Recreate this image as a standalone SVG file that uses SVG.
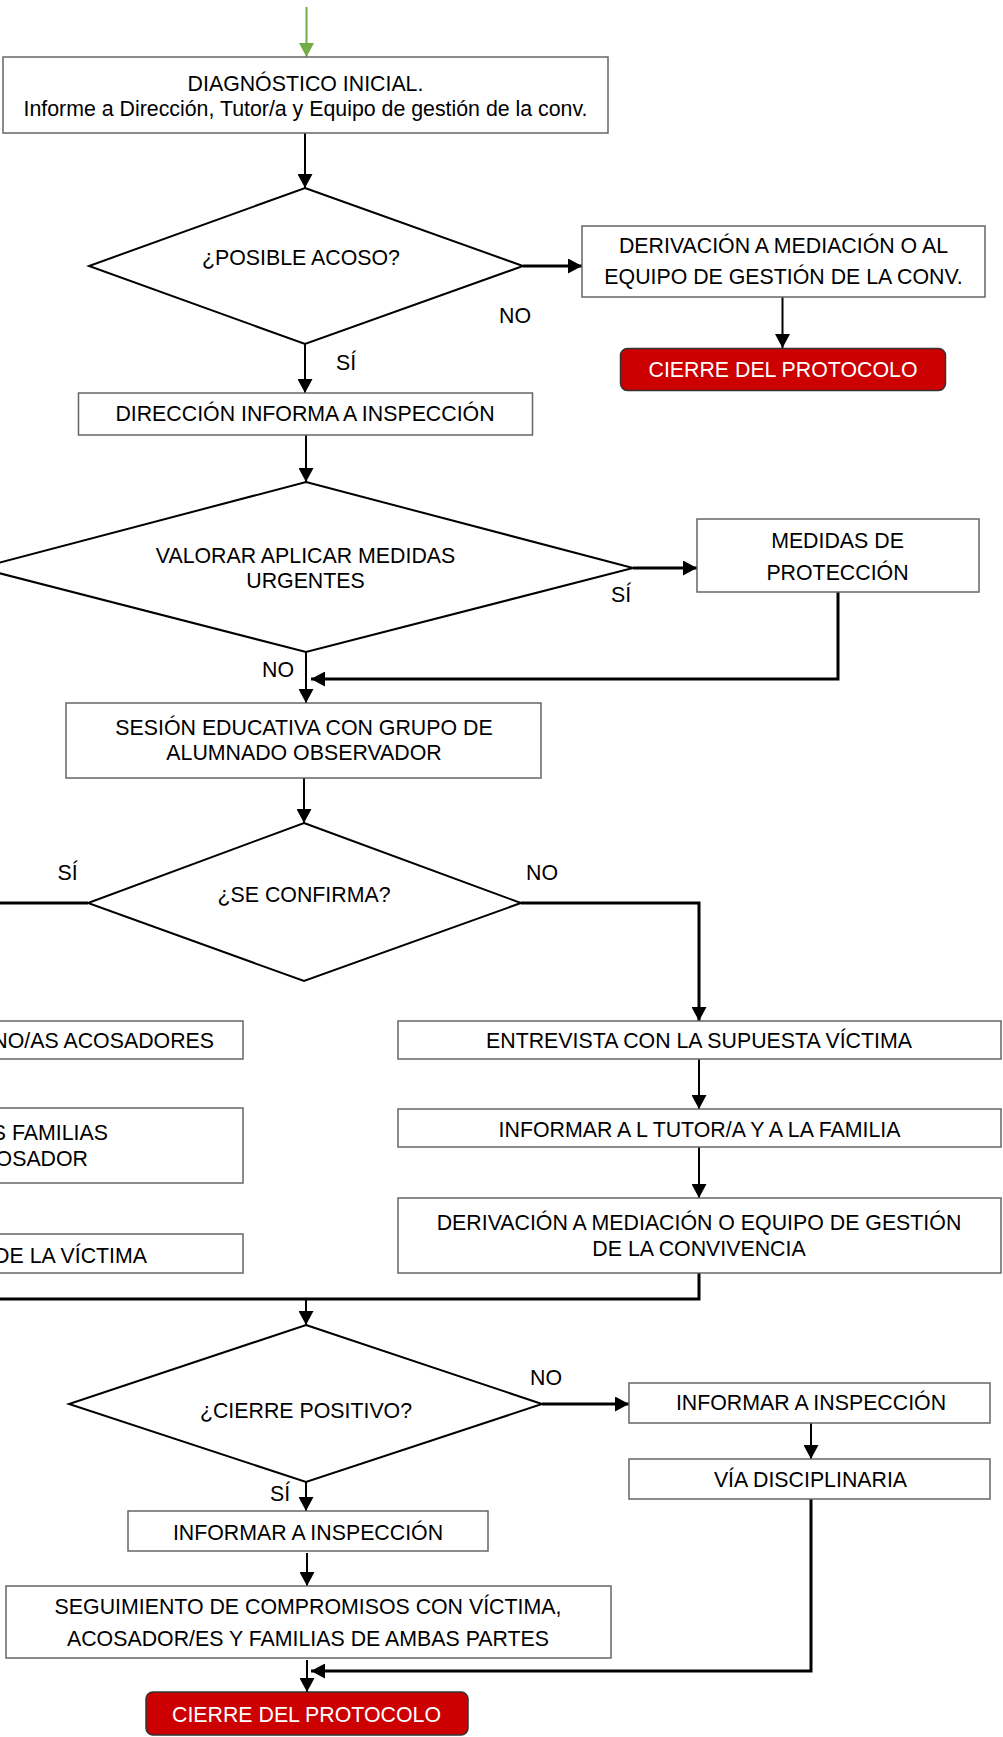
<svg xmlns="http://www.w3.org/2000/svg" width="1003" height="1737" viewBox="0 0 1003 1737">
<style>
text{font-family:"Liberation Sans",Arial,sans-serif;font-size:21.33px;fill:#000}
.c{text-anchor:middle}
.e{text-anchor:end}
.box{fill:#fff;stroke:#666;stroke-width:1.5}
.dia{fill:#fff;stroke:#000;stroke-width:2}
.red{fill:#cc0000;stroke:#333;stroke-width:1.5}
.w{fill:#fff}
.ln{fill:none;stroke:#000;stroke-width:2}
.tk{fill:none;stroke:#000;stroke-width:3}
</style>
<defs>
<marker id="ah" viewBox="0 0 14 15" refX="14" refY="7.5" markerWidth="14" markerHeight="15" markerUnits="userSpaceOnUse" orient="auto"><path d="M0,0 L14,7.5 L0,15 z" fill="#000"/></marker>
<marker id="ahg" viewBox="0 0 14 15" refX="14" refY="7.5" markerWidth="14" markerHeight="15" markerUnits="userSpaceOnUse" orient="auto"><path d="M0,0 L14,7.5 L0,15 z" fill="#70ad47"/></marker>
</defs>

<g id="connectors">
<path d="M306.5,7 V57" fill="none" stroke="#70ad47" stroke-width="2" marker-end="url(#ahg)"/>
<path class="ln" d="M305,133 V188" marker-end="url(#ah)"/>
<path class="tk" d="M523,266 H582" marker-end="url(#ah)"/>
<path class="ln" d="M782.5,297 V348" marker-end="url(#ah)"/>
<path class="ln" d="M305,344 V393" marker-end="url(#ah)"/>
<path class="ln" d="M306,435 V482" marker-end="url(#ah)"/>
<path class="tk" d="M633,568 H697" marker-end="url(#ah)"/>
<path class="tk" d="M838,592 V679 H311" marker-end="url(#ah)"/>
<path class="ln" d="M306,652 V703" marker-end="url(#ah)"/>
<path class="ln" d="M304,778 V823" marker-end="url(#ah)"/>
<path class="tk" d="M88,903 H-5"/>
<path class="tk" d="M521,903 H699 V1021" marker-end="url(#ah)"/>
<path class="ln" d="M699,1059 V1109" marker-end="url(#ah)"/>
<path class="ln" d="M699,1147 V1198" marker-end="url(#ah)"/>
<path class="tk" d="M699,1273 V1299 H-5"/>
<path class="ln" d="M306,1299 V1325" marker-end="url(#ah)"/>
<path class="tk" d="M542,1404 H629" marker-end="url(#ah)"/>
<path class="ln" d="M811,1423 V1459" marker-end="url(#ah)"/>
<path class="tk" d="M811,1499 V1671 H311" marker-end="url(#ah)"/>
<path class="ln" d="M306,1482 V1511" marker-end="url(#ah)"/>
<path class="ln" d="M307,1553 V1586" marker-end="url(#ah)"/>
<path class="ln" d="M307,1660 V1692" marker-end="url(#ah)"/>
</g>

<g id="labels">
<text x="499" y="323">NO</text>
<text x="336" y="370">SÍ</text>
<text x="611" y="602">SÍ</text>
<text x="262" y="677">NO</text>
<text x="57.6" y="880">SÍ</text>
<text x="526" y="880">NO</text>
<text x="530" y="1385">NO</text>
<text x="270" y="1501">SÍ</text>
</g>

<g id="n-diagnostico">
<rect class="box" x="3" y="57" width="605" height="76"/>
<text class="c" x="305.5" y="90.7">DIAGNÓSTICO INICIAL.</text>
<text class="c" x="305.5" y="116">Informe a Dirección, Tutor/a y Equipo de gestión de la conv.</text>
</g>

<g id="n-posible-acoso">
<polygon class="dia" points="305,188 523,266 305,344 89,266"/>
<text class="c" x="301" y="265">¿POSIBLE ACOSO?</text>
</g>

<g id="n-derivacion1">
<rect class="box" x="582" y="226" width="403" height="71"/>
<text class="c" x="783.5" y="253">DERIVACIÓN A MEDIACIÓN O AL</text>
<text class="c" x="783.5" y="284">EQUIPO DE GESTIÓN DE LA CONV.</text>
</g>

<g id="n-cierre1">
<rect class="red" x="620.5" y="348.5" width="325" height="42" rx="7"/>
<text class="c w" x="783" y="376.7">CIERRE DEL PROTOCOLO</text>
</g>

<g id="n-direccion">
<rect class="box" x="78.5" y="393" width="454" height="42"/>
<text class="c" x="305" y="420.7">DIRECCIÓN INFORMA A INSPECCIÓN</text>
</g>

<g id="n-valorar">
<polygon class="dia" points="306,482 633,568 306,652 -21,568"/>
<text class="c" x="305.5" y="563">VALORAR APLICAR MEDIDAS</text>
<text class="c" x="305.5" y="588">URGENTES</text>
</g>

<g id="n-medidas">
<rect class="box" x="697" y="519" width="282" height="73"/>
<text class="c" x="837.5" y="548">MEDIDAS DE</text>
<text class="c" x="837.5" y="580">PROTECCIÓN</text>
</g>

<g id="n-sesion">
<rect class="box" x="66" y="703" width="475" height="75"/>
<text class="c" x="304" y="735">SESIÓN EDUCATIVA CON GRUPO DE</text>
<text class="c" x="304" y="760">ALUMNADO OBSERVADOR</text>
</g>

<g id="n-se-confirma">
<polygon class="dia" points="304,823 521,903 304,981 88,903"/>
<text class="c" x="304" y="902">¿SE CONFIRMA?</text>
</g>

<g id="n-left-a">
<rect class="box" x="-10" y="1021" width="253" height="38"/>
<text class="e" x="214" y="1048">NO/AS ACOSADORES</text>
</g>

<g id="n-left-b">
<rect class="box" x="-10" y="1108" width="253" height="75"/>
<text class="e" x="108" y="1140">S FAMILIAS</text>
<text class="e" x="88" y="1166">OSADOR</text>
</g>

<g id="n-left-c">
<rect class="box" x="-10" y="1234" width="253" height="39"/>
<text class="e" x="147" y="1263">DE LA VÍCTIMA</text>
</g>

<g id="n-entrevista">
<rect class="box" x="398" y="1021" width="603" height="38"/>
<text class="c" x="699" y="1048">ENTREVISTA CON LA SUPUESTA VÍCTIMA</text>
</g>

<g id="n-informar-tutor">
<rect class="box" x="398" y="1109" width="603" height="38"/>
<text class="c" x="699.5" y="1137">INFORMAR A L TUTOR/A Y A LA FAMILIA</text>
</g>

<g id="n-derivacion2">
<rect class="box" x="398" y="1198" width="603" height="75"/>
<text class="c" x="699" y="1230">DERIVACIÓN A MEDIACIÓN O EQUIPO DE GESTIÓN</text>
<text class="c" x="699" y="1256">DE LA CONVIVENCIA</text>
</g>

<g id="n-cierre-positivo">
<polygon class="dia" points="306,1325 542,1404 306,1482 69,1404"/>
<text class="c" x="306" y="1418">¿CIERRE POSITIVO?</text>
</g>

<g id="n-informar-insp-r">
<rect class="box" x="629" y="1383" width="361" height="40"/>
<text class="c" x="811" y="1410">INFORMAR A INSPECCIÓN</text>
</g>

<g id="n-via">
<rect class="box" x="629" y="1459" width="361" height="40"/>
<text class="c" x="810.5" y="1487">VÍA DISCIPLINARIA</text>
</g>

<g id="n-informar-insp-l">
<rect class="box" x="128" y="1511" width="360" height="40"/>
<text class="c" x="308" y="1540">INFORMAR A INSPECCIÓN</text>
</g>

<g id="n-seguimiento">
<rect class="box" x="6" y="1586" width="605" height="72"/>
<text class="c" x="308" y="1614">SEGUIMIENTO DE COMPROMISOS CON VÍCTIMA,</text>
<text class="c" x="308" y="1646">ACOSADOR/ES Y FAMILIAS DE AMBAS PARTES</text>
</g>

<g id="n-cierre2">
<rect class="red" x="146" y="1692" width="322" height="43" rx="7"/>
<text class="c w" x="306.5" y="1722">CIERRE DEL PROTOCOLO</text>
</g>
</svg>
